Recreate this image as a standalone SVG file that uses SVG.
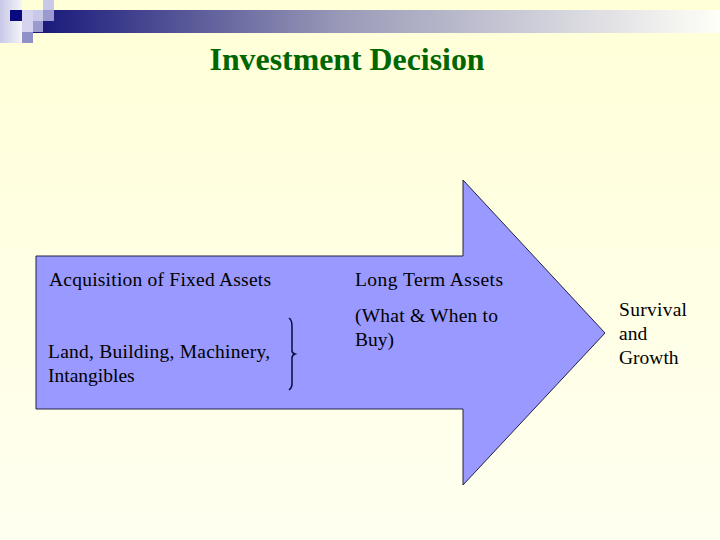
<svg xmlns="http://www.w3.org/2000/svg" width="720" height="540" viewBox="0 0 720 540">
<defs>
<linearGradient id="bg" x1="0" y1="0" x2="0" y2="1">
<stop offset="0" stop-color="#FFFFD8"/>
<stop offset="1" stop-color="#FFFFF0"/>
</linearGradient>
<linearGradient id="bar" x1="0" y1="0" x2="1" y2="0">
<stop offset="0" stop-color="#16167A"/>
<stop offset="0.45" stop-color="#9A9AB8"/>
<stop offset="1" stop-color="#FFFFF8"/>
</linearGradient>
<linearGradient id="strip" x1="0" y1="0" x2="1" y2="0">
<stop offset="0" stop-color="#C8C8E8"/>
<stop offset="1" stop-color="#F4F4F8"/>
</linearGradient>
<style>
.t{font-family:"Liberation Serif","Times New Roman",serif;font-size:19.5px;fill:#000}
.title{font-family:"Liberation Serif","Times New Roman",serif;font-size:32px;font-weight:bold;fill:#006600}
</style>
</defs>
<rect width="720" height="540" fill="url(#bg)"/>
<g id="header">
<rect x="0" y="0" width="22" height="43" fill="url(#strip)"/>
<rect x="33" y="10" width="687" height="23" fill="url(#bar)"/>
<rect x="10" y="10" width="12" height="11" fill="#0A0A80"/>
<rect x="22" y="10" width="11" height="11" fill="#D4D4EE"/>
<rect x="33" y="10" width="10" height="11" fill="#C8C8E8"/>
<rect x="43" y="0" width="11" height="10" fill="#C8C8E8"/>
<rect x="43" y="10" width="11" height="11" fill="#9A9AD0"/>
<rect x="22" y="21" width="11" height="11" fill="#D4D4EE"/>
<rect x="33" y="21" width="10" height="11" fill="#9A9AD0"/>
<rect x="22" y="32" width="11" height="11" fill="#9090C8"/>
</g>
<text class="title" x="347" y="70" text-anchor="middle" textLength="275" lengthAdjust="spacingAndGlyphs">Investment Decision</text>
<g id="arrow">
<polygon points="36,256 463,256 463,180 605,333 463,485 463,409 36,409" fill="#9999FF" stroke="#222244" stroke-width="1"/>
</g>
<g id="connectors">
<path d="M289,318 Q292,320 292,326 L292,351 Q292,353 295,354 Q292,355 292,358 L292,384 Q292,388 289,390" fill="none" stroke="#0A0A40" stroke-width="1.5"/>
</g>
<g id="left-top"><text class="t" x="49" y="286" textLength="222">Acquisition of Fixed Assets</text></g>
<g id="left-bottom"><text class="t" x="48" y="358" textLength="222">Land, Building, Machinery,</text><text class="t" x="48" y="382">Intangibles</text></g>
<g id="mid-top"><text class="t" x="355" y="286" textLength="148">Long Term Assets</text></g>
<g id="mid-bottom"><text class="t" x="355" y="322" textLength="143">(What &amp; When to</text><text class="t" x="355" y="346">Buy)</text></g>
<g id="result"><text class="t" x="619" y="316" textLength="68">Survival</text><text class="t" x="619" y="340">and</text><text class="t" x="619" y="364">Growth</text></g>
</svg>
